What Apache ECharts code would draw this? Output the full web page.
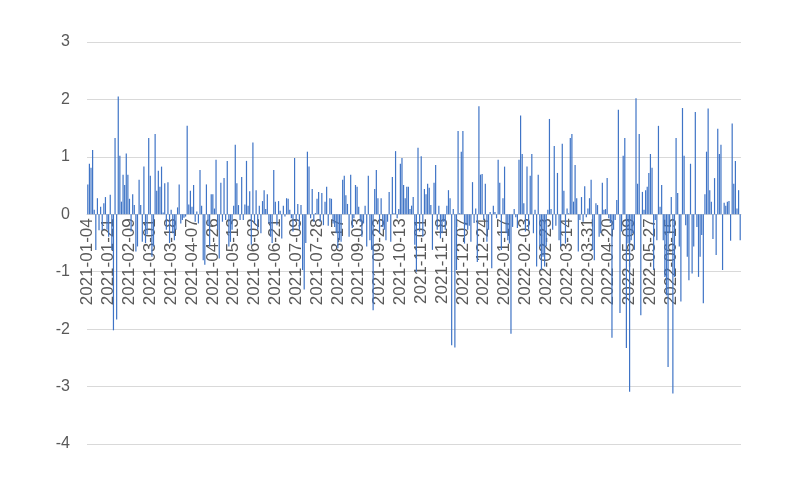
<!DOCTYPE html>
<html>
<head>
<meta charset="utf-8">
<script src="https://cdn.jsdelivr.net/npm/echarts@6/dist/echarts.min.js"></script>
<style>
html,body{margin:0;padding:0;background:#fff;}
#chart{width:800px;height:480px;}
</style>
</head>
<body>
<div id="chart"></div>
<script>
// Tick labels visible on the category axis (every 13th trading day)
var labelDates = ['2021-01-04','2021-01-21','2021-02-09','2021-03-01','2021-03-18','2021-04-07','2021-04-26','2021-05-13','2021-06-02','2021-06-21','2021-07-09','2021-07-28','2021-08-17','2021-09-03','2021-09-23','2021-10-13','2021-11-01','2021-11-18','2021-12-07','2021-12-24','2022-01-17','2022-02-03','2022-02-23','2022-03-14','2022-03-31','2022-04-20','2022-05-09','2022-05-27','2022-06-15'];

// Daily values in chunks (left to right)
var values2021a = [0.52,0.88,0.81,1.12,0.08,-0.62,0.28,-0.28,0.13,-0.28,0.19,0.30,-0.27,-0.39,0.34,-0.62,-2.02,1.33,-1.83,2.05,1.02,0.22,0.69,0.51,1.06,0.69,0.27,-0.30,0.35,0.16,-0.65,-0.56];
var values2021b = [0.60,0.16,-0.48,0.83,-0.50,-0.35,1.33,0.67,-0.74,-0.56,1.40,0.41,0.76,0.48,0.83,0.03,0.54,-0.27,0.56,-0.50,0.08,-0.33,-0.45,-0.27,0.12,0.52,-0.16,-0.10,-0.06,-0.04,1.54,0.17,0.41,0.13,0.51];
var values2021c = [-0.13,0.05,-0.16,0.77,0.15,-0.80,-0.88,0.52,-0.20,-0.56,0.35,0.35,0.10,0.95,-0.27,-0.77,0.55,-0.13,0.63,-0.10,0.93,-0.56,-0.48,-0.27,0.15,1.21,0.54,0.16,-0.10,0.65,-0.10,0.17,0.93,0.15];
var values2021d = [0.40,-0.53,1.25,-0.16,0.42,-0.27,0.15,-0.33,0.23,0.42,0.09,0.35,-0.16,-0.39,-0.50,0.77,0.22,-0.19,0.23,0.06,-0.42,0.15,-0.04,0.28,0.27,0.08,-0.07,-0.30,0.98,-0.13,0.18,-0.27,0.16,-0.97];
var values2021e = [-1.31,-0.50,1.09,0.83,-0.07,0.44,-0.13,0.02,0.27,0.39,-0.13,0.37,-0.19,0.22,0.48,-0.20,0.28,0.27,-0.16,-0.22,-0.33,-0.59,-0.45,-0.48,0.60,0.67,0.33,0.18,-0.39,0.69,-0.24,-0.07,0.51,0.48,0.13];
var values2021f = [-0.13,-0.39,-0.16,0.15,-0.56,0.67,-0.45,-0.62,-1.67,0.44,0.77,0.28,-0.33,0.28,-0.22,-0.27,-0.45,-0.13,0.39,-0.48,0.65,0.02,1.10,-0.07,0.09,0.88,0.98,0.51,0.28,0.48,0.48,0.09,0.15,0.30];
var values2021g = [-0.53,-1.00,1.16,-0.30,1.01,-0.39,0.44,0.35,0.53,0.46,0.16,-0.62,0.55,0.86,-0.27,0.15,-0.42,-0.33,-0.13,-0.27,0.15,0.42,0.28,-2.28,0.09,-2.32,-0.97,1.45,0.02,1.09,1.45,-0.51,-0.19,-0.27];
var values2021h = [-0.20,-0.48,0.56,-0.15,0.10,-0.83,1.88,0.69,0.70,-0.10,0.53,-0.48,-0.27,0.04,-0.94,0.15,0.04,-0.07,0.95,0.55,-0.62,0.28,0.83,-0.33,-0.45,-0.51,-2.08,-0.22,0.09,-0.05,-0.24,0.95,1.72,1.05];
var values2022a = [0.19,-0.30,0.83,-0.27,0.67,1.05,-0.33,0.08,-0.91,0.69,-0.56,-0.97,-0.74,-0.91,-0.56,0.08,1.66,0.09,-0.27,1.19,-0.20,0.72,-0.45,-0.56,1.23,0.41,-0.51,0.10,0.02,1.33,1.40,0.22,0.86,0.28,-0.65];
var values2022b = [-0.10,0.30,-0.13,0.49,-0.05,0.10,0.28,0.60,-0.62,-0.80,0.19,0.16,-0.39,-0.33,0.55,0.08,0.09,0.63,-0.07,-0.15,-2.15,-0.27,-0.10,0.25,1.82,-1.72,-0.30,1.02,1.33,-2.33,-0.51,-3.09,-0.45,-0.33];
var values2022c = [-0.62,2.02,0.53,1.40,-1.76,0.39,0.08,0.42,0.48,0.72,1.05,0.81,-0.97,-0.10,-0.45,1.54,0.13,0.51,-0.45,-1.09,-1.41,-2.66,-0.33,0.30,-3.12,-1.09,1.33,0.37,-0.56,-1.52,1.85,1.02,-0.19,-0.74];
var values2022d = [-1.15,0.88,-1.03,-0.56,1.78,-0.22,-1.09,-0.74,-0.36,-1.55,0.35,1.09,1.84,0.42,0.22,-0.43,0.63,-0.71,1.49,1.05,1.21,-0.97,0.20,0.15,0.22,0.23,-0.46,1.58,0.53,0.93,0.10,0.42,-0.45];

var yMin = -4, yMax = 3, yStep = 1;
var labelEvery = 13;

var values = [].concat(values2021a, values2021b, values2021c, values2021d, values2021e, values2021f,
  values2021g, values2021h, values2022a, values2022b, values2022c, values2022d);

function pad(n){ return (n < 10 ? '0' : '') + n; }
function addWeekdays(s, n){
  var p = s.split('-');
  var d = new Date(Date.UTC(+p[0], +p[1]-1, +p[2]));
  var c = 0;
  while (c < n){
    d.setUTCDate(d.getUTCDate() + 1);
    var w = d.getUTCDay();
    if (w !== 0 && w !== 6) c++;
  }
  return d.getUTCFullYear() + '-' + pad(d.getUTCMonth()+1) + '-' + pad(d.getUTCDate());
}
var categories = [];
for (var i = 0; i < values.length; i++){
  var k = Math.min(Math.floor(i / labelEvery), labelDates.length - 1);
  var off = i - k * labelEvery;
  categories.push(off === 0 ? labelDates[k] : addWeekdays(labelDates[k], off));
}
var lastLabelIndex = (labelDates.length - 1) * labelEvery;

var gridTop = 42, gridBottom = 36, chartH = 480;
var plotH = chartH - gridTop - gridBottom;
// distance from bottom of plot up to the zero line, via the value scale
var zeroOffset = -plotH * (0 - yMin) / (yMax - yMin);

var chart = echarts.init(document.getElementById('chart'), null, {renderer:'canvas'});
chart.setOption({
  animation: false,
  backgroundColor: '#ffffff',
  textStyle: {fontFamily: 'Liberation Sans, Arial, sans-serif'},
  grid: {left: 87, right: 59, top: gridTop, bottom: gridBottom, containLabel: false},
  xAxis: {
    type: 'category',
    data: categories,
    position: 'bottom',
    offset: zeroOffset,
    axisLine: {show: true, onZero: false, lineStyle: {color: '#d9d9d9', width: 1}},
    axisTick: {show: false},
    splitLine: {show: false},
    axisLabel: {
      interval: function(idx){ return idx % labelEvery === 0 && idx <= lastLabelIndex; },
      rotate: 90,
      margin: 4,
      fontSize: 17,
      color: '#595959',
      fontFamily: 'Liberation Sans, Arial, sans-serif'
    }
  },
  yAxis: {
    type: 'value',
    min: yMin, max: yMax, interval: yStep,
    axisLine: {show: false},
    axisTick: {show: false},
    splitLine: {show: true, lineStyle: {color: '#d9d9d9', width: 1}},
    axisLabel: {fontSize: 16, color: '#595959', margin: 17, fontFamily: 'Liberation Sans, Arial, sans-serif'}
  },
  series: [{
    type: 'bar',
    data: values,
    barWidth: 1.2,
    itemStyle: {color: '#3f74c6'},
    emphasis: {disabled: true}
  }]
});
</script>
</body>
</html>
